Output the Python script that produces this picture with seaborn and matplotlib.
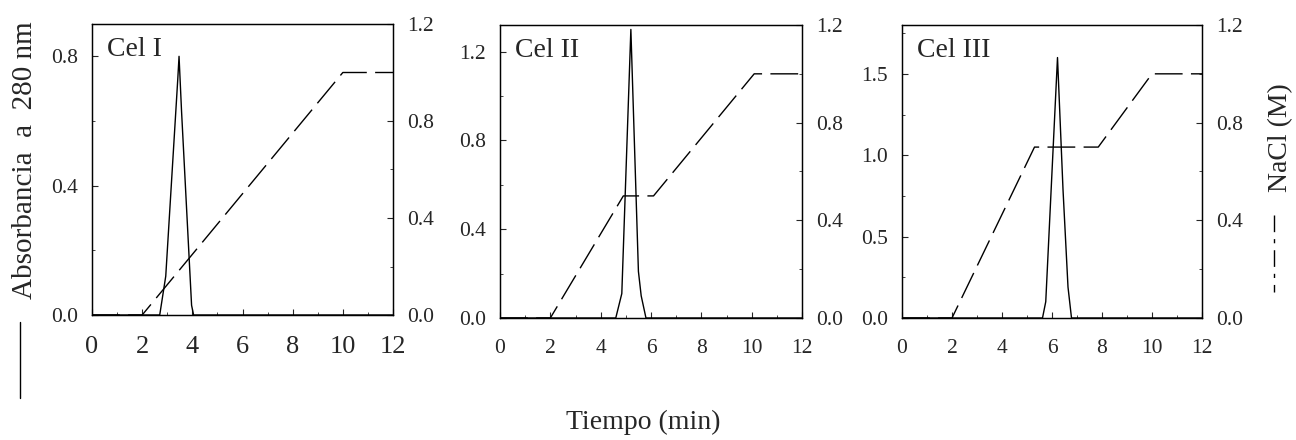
import numpy as np
import pandas as pd
import matplotlib
matplotlib.use("Agg")
import matplotlib.pyplot as plt
from matplotlib.lines import Line2D
from matplotlib.ticker import MultipleLocator
import seaborn as sns

sns.set_style("ticks")
plt.rcParams['font.family'] = ['Liberation Serif', 'DejaVu Serif']

# ---------------- data ----------------
panel_names = ["Cel I", "Cel II", "Cel III"]

time_abs_I = [0, 2.7, 2.94, 3.42, 3.47, 3.57, 3.97, 4.05, 12]
abs_I = [0, 0, 0.12, 0.73, 0.80, 0.63, 0.03, 0, 0]
time_nacl_I = [0, 2.0, 10.0, 12]
nacl_I = [0, 0, 1.0, 1.0]

time_abs_II = [0, 4.6, 4.84, 5.2, 5.5, 5.61, 5.8, 12]
abs_II = [0, 0, 0.11, 1.30, 0.21, 0.10, 0, 0]
time_nacl_II = [0, 2.0, 4.9, 6.1, 10.1, 12]
nacl_II = [0, 0, 0.5, 0.5, 1.0, 1.0]

time_abs_III = [0, 5.62, 5.75, 6.22, 6.44, 6.64, 6.78, 12]
abs_III = [0, 0, 0.10, 1.60, 0.79, 0.19, 0, 0]
time_nacl_III = [0, 2.0, 5.3, 7.85, 10.0, 12]
nacl_III = [0, 0, 0.7, 0.7, 1.0, 1.0]

x_ticks = [0, 2, 4, 6, 8, 10, 12]
left_ylims = [0.9, 1.32, 1.8]
left_yticks = [[0.0, 0.4, 0.8], [0.0, 0.4, 0.8, 1.2], [0.0, 0.5, 1.0, 1.5]]
right_yticks = [0.0, 0.4, 0.8, 1.2]

abs_times = [time_abs_I, time_abs_II, time_abs_III]
abs_vals = [abs_I, abs_II, abs_III]
nacl_times = [time_nacl_I, time_nacl_II, time_nacl_III]
nacl_vals = [nacl_I, nacl_II, nacl_III]

# ---------------- layout ----------------
fig = plt.figure(figsize=(12.96, 4.4), dpi=100)
positions = [
    [92 / 1296, (440 - 315) / 440, 301 / 1296, 291 / 440],
    [500 / 1296, (440 - 318) / 440, 302 / 1296, 293 / 440],
    [902 / 1296, (440 - 318) / 440, 300 / 1296, 293 / 440],
]
xtick_sizes = [19, 15.5, 15.5]
ytick_sizes = [15.5, 15.5, 15.5]

for i in range(3):
    ax = fig.add_axes(positions[i])
    df_abs = pd.DataFrame({"t": abs_times[i], "a": abs_vals[i]})
    df_nacl = pd.DataFrame({"t": nacl_times[i], "n": nacl_vals[i]})

    sns.lineplot(data=df_abs, x="t", y="a", ax=ax, color="black", lw=1.0,
                 estimator=None, sort=False)
    ax.set_xlim(0, 12)
    ax.set_ylim(0, left_ylims[i])
    ax.set_xticks(x_ticks)
    ax.set_xticklabels([str(v) for v in x_ticks])
    ax.set_yticks(left_yticks[i])
    ax.set_yticklabels([f"{v:.1f}" for v in left_yticks[i]])
    ax.xaxis.set_minor_locator(MultipleLocator(1))
    step = left_yticks[i][1] - left_yticks[i][0]
    ax.yaxis.set_minor_locator(MultipleLocator(step / 2))
    ax.set_xlabel("")
    ax.set_ylabel("")
    ax.tick_params(axis="x", which="major", direction="in", length=4, width=0.8,
                   labelsize=xtick_sizes[i], pad=15)
    ax.tick_params(axis="y", which="major", direction="in", length=4, width=0.8,
                   labelsize=ytick_sizes[i], pad=10)
    ax.tick_params(which="minor", direction="in", length=2, width=0.6)
    for s in ax.spines.values():
        s.set_linewidth(0.9)
        s.set_color("black")
        s.set_visible(True)
    ax.text(0.05, 0.955, panel_names[i], transform=ax.transAxes, ha="left", va="top",
            fontsize=20)

    ax2 = ax.twinx()
    sns.lineplot(data=df_nacl, x="t", y="n", ax=ax2, color="black", lw=1.0,
                 estimator=None, sort=False, linestyle=(0, (20, 6)))
    ax2.set_ylim(0, 1.2)
    ax2.set_yticks(right_yticks)
    ax2.set_yticklabels([f"{v:.1f}" for v in right_yticks])
    ax2.yaxis.set_minor_locator(MultipleLocator(0.2))
    ax2.set_ylabel("")
    ax2.set_xlabel("")
    ax2.tick_params(axis="y", which="major", direction="in", length=4, width=0.8,
                    labelsize=15.5, pad=10)
    ax2.tick_params(which="minor", direction="in", length=2, width=0.6)
    for s in ax2.spines.values():
        s.set_linewidth(0.9)
        s.set_color("black")

# axis titles
fig.text(25 / 1296, 1 - 160 / 440, "Absorbancia  a  280 nm", rotation=90,
         ha="center", va="center", fontsize=21)
fig.text(1281 / 1296, 1 - 138 / 440, "NaCl (M)", rotation=90,
         ha="center", va="center", fontsize=20)
fig.text(643 / 1296, 1 - 422 / 440, "Tiempo (min)", ha="center", va="center",
         fontsize=20)

# legend keys next to the axis titles
fig.add_artist(Line2D([20 / 1296, 20 / 1296], [1 - 322 / 440, 1 - 398 / 440],
                      color="black", lw=1.0, transform=fig.transFigure))
fig.add_artist(Line2D([1274 / 1296, 1274 / 1296], [1 - 215 / 440, 1 - 292 / 440],
                      color="black", lw=1.0, linestyle=(0, (12, 5, 3, 5)),
                      transform=fig.transFigure))

fig.savefig("out.png", dpi=100)
